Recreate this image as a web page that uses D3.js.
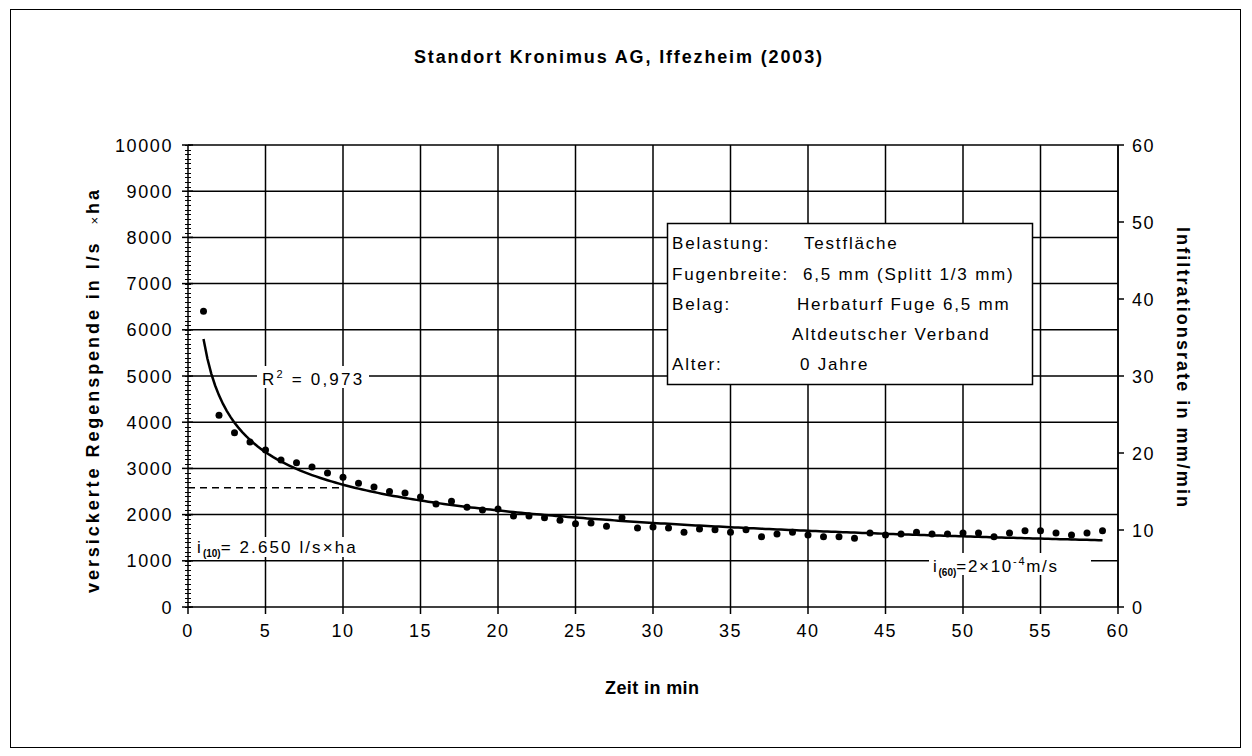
<!DOCTYPE html>
<html><head><meta charset="utf-8">
<script src="https://cdn.jsdelivr.net/npm/d3@7"></script>
<style>
html,body{margin:0;padding:0;background:#fff;}
text{font-family:"Liberation Sans",Arial,sans-serif;fill:#000;}
</style></head>
<body>
<svg id="c" width="1252" height="756"></svg>
<script>
// ---- data ----
const times = [1,2,3,4,5,6,7,8,9,10,11,12,13,14,15,16,17,18,19,20,21,22,23,24,25,26,27,28,29,30,31,32,33,34,35,36,37,38,39,40,41,42,43,44,45,46,47,48,49,50,51,52,53,54,55,56,57,58,59];
const values = [6400,4150,3770,3570,3400,3180,3120,3030,2900,2810,2680,2600,2500,2470,2380,2230,2290,2160,2100,2120,1970,1970,1930,1880,1800,1820,1750,1930,1710,1730,1710,1620,1690,1670,1620,1670,1520,1580,1620,1560,1520,1520,1490,1600,1560,1580,1620,1580,1580,1600,1600,1520,1600,1650,1650,1600,1560,1600,1650];
const xTicks = [0,5,10,15,20,25,30,35,40,45,50,55,60];
const yLeftTicks = [0,1000,2000,3000,4000,5000,6000,7000,8000,9000,10000];
const yRightTicks = [0,10,20,30,40,50,60];
const i10Level = 2580;
const legendLabels = ["Belastung:","Fugenbreite:","Belag:","","Alter:"];
const legendValues = ["Testfläche","6,5 mm (Splitt 1/3 mm)","Herbaturf Fuge 6,5 mm","Altdeutscher Verband","0 Jahre"];
const title = "Standort Kronimus AG, Iffezheim (2003)";

// ---- layout ----
const svg = d3.select("#c");
const L = 188, R = 1118, T = 145, B = 607;
const x = d3.scaleLinear().domain([0,60]).range([L,R]);
const y = d3.scaleLinear().domain([0,10000]).range([B,T]);
const y2 = d3.scaleLinear().domain([0,60]).range([B,T]);
const LS = "1.8px";

// outer frame
svg.append("rect").attr("x",10.5).attr("y",9.5).attr("width",1230).attr("height",738)
  .attr("fill","none").attr("stroke","#000").attr("stroke-width",1);

// title
svg.append("text").attr("x",618).attr("y",63).attr("text-anchor","middle")
  .attr("font-size",18).attr("font-weight","bold")
  .attr("textLength",408).attr("lengthAdjust","spacing").text(title);

// grid
const g = svg.append("g");
g.selectAll("line.v").data(xTicks.filter(d=>d>0)).enter().append("line")
  .attr("x1",d=>x(d)).attr("x2",d=>x(d)).attr("y1",T).attr("y2",B)
  .attr("stroke","#000").attr("stroke-width",1.5);
g.selectAll("line.h").data(yLeftTicks.filter(d=>d>0)).enter().append("line")
  .attr("x1",L).attr("x2",R).attr("y1",d=>y(d)).attr("y2",d=>y(d))
  .attr("stroke","#000").attr("stroke-width",1.5);

// axes lines
svg.append("line").attr("x1",L).attr("x2",L).attr("y1",T).attr("y2",B).attr("stroke","#000").attr("stroke-width",1.5);
svg.append("line").attr("x1",L).attr("x2",R).attr("y1",B).attr("y2",B).attr("stroke","#000").attr("stroke-width",1.5);
svg.append("line").attr("x1",R).attr("x2",R).attr("y1",T).attr("y2",B).attr("stroke","#000").attr("stroke-width",1.5);

// left minor ticks
const minor = d3.range(0,10001,100);
svg.selectAll("line.mn").data(minor).enter().append("line")
  .attr("x1",L-3).attr("x2",L+3).attr("y1",d=>Math.round(y(d))+0.5).attr("y2",d=>Math.round(y(d))+0.5)
  .attr("stroke","#000").attr("stroke-width",1);
// left major ticks + labels
svg.selectAll("line.mj").data(yLeftTicks).enter().append("line")
  .attr("x1",L-6).attr("x2",L+5).attr("y1",d=>y(d)).attr("y2",d=>y(d)).attr("stroke","#000").attr("stroke-width",1.5);
svg.selectAll("text.yl").data(yLeftTicks).enter().append("text")
  .attr("x",173).attr("y",d=>y(d)+6.5).attr("text-anchor","end").attr("font-size",18)
  .style("letter-spacing","1.6px").text(d=>d);
// right ticks + labels
svg.selectAll("line.rt").data(yRightTicks).enter().append("line")
  .attr("x1",R).attr("x2",R+6).attr("y1",d=>y2(d)).attr("y2",d=>y2(d)).attr("stroke","#000").attr("stroke-width",1.5);
svg.selectAll("text.yr").data(yRightTicks).enter().append("text")
  .attr("x",1132).attr("y",d=>y2(d)+6.5).attr("text-anchor","start").attr("font-size",18)
  .style("letter-spacing","1.6px").text(d=>d);
// x ticks + labels
svg.selectAll("line.xt").data(xTicks).enter().append("line")
  .attr("x1",d=>x(d)).attr("x2",d=>x(d)).attr("y1",B).attr("y2",B+7).attr("stroke","#000").attr("stroke-width",1.5);
svg.selectAll("text.xl").data(xTicks).enter().append("text")
  .attr("x",d=>x(d)).attr("y",637).attr("text-anchor","middle").attr("font-size",18)
  .style("letter-spacing","1.6px").text(d=>d);

// axis titles
svg.append("text").attr("x",652).attr("y",694).attr("text-anchor","middle").attr("font-size",18)
  .attr("font-weight","bold").attr("textLength",94).attr("lengthAdjust","spacing").text("Zeit in min");
const lt = svg.append("text").attr("transform","translate(99,391.5) rotate(-90)").attr("text-anchor","middle")
  .attr("font-size",18).attr("font-weight","bold").attr("textLength",403).attr("lengthAdjust","spacing");
lt.append("tspan").text("versickerte Regenspende in l/s\u00a0\u00a0");
lt.append("tspan").attr("font-weight","normal").attr("font-size",13).text("\u00d7");
lt.append("tspan").text("ha");
svg.append("text").attr("transform","translate(1177,367) rotate(90)").attr("text-anchor","middle")
  .attr("font-size",18).attr("font-weight","bold").attr("textLength",280).attr("lengthAdjust","spacing")
  .text("Infiltrationsrate in mm/min");

// dashed i10 line
svg.append("line").attr("x1",x(0)).attr("x2",x(10)).attr("y1",y(i10Level)).attr("y2",y(i10Level))
  .attr("stroke","#000").attr("stroke-width",1.5).attr("stroke-dasharray","7,5");

// power trend (least squares in log-log space)
const lx = times.map(Math.log), ly = values.map(Math.log);
const mx = d3.mean(lx), my = d3.mean(ly);
const b = d3.sum(lx.map((v,i)=>(v-mx)*(ly[i]-my))) / d3.sum(lx.map(v=>(v-mx)*(v-mx)));
const a = Math.exp(my - b*mx);
const tr = d3.range(1,59.001,0.25).map(t=>[t,a*Math.pow(t,b)]);
svg.append("path").datum(tr).attr("fill","none").attr("stroke","#000").attr("stroke-width",2.5)
  .attr("d",d3.line().x(d=>x(d[0])).y(d=>y(d[1])));

// points
svg.selectAll("circle.p").data(times).enter().append("circle")
  .attr("cx",d=>x(d)).attr("cy",(d,i)=>y(values[i])).attr("r",3.5).attr("fill","#000");

// R² label
svg.append("rect").attr("x",257).attr("y",366).attr("width",112).attr("height",22).attr("fill","#fff");
const r2 = svg.append("text").attr("x",262).attr("y",385).attr("font-size",17).style("letter-spacing","2.2px");
r2.append("tspan").text("R");
r2.append("tspan").attr("font-size",11).attr("dy",-7).text("2");
r2.append("tspan").attr("dy",7).text(" = 0,973");

// i10 label
svg.append("rect").attr("x",192).attr("y",537).attr("width",175).attr("height",20).attr("fill","#fff");
const t10 = svg.append("text").attr("x",197).attr("y",553).attr("font-size",17).style("letter-spacing","2.1px");
t10.append("tspan").text("i");
t10.append("tspan").attr("font-size",10).attr("font-weight","bold").attr("dy",4).style("letter-spacing","0px").text("(10)");
t10.append("tspan").attr("dy",-4).text("= 2.650 l/s\u00d7ha");

// i60 label
svg.append("rect").attr("x",929).attr("y",553).attr("width",162).attr("height",22).attr("fill","#fff");
const t60 = svg.append("text").attr("x",933).attr("y",572).attr("font-size",17).style("letter-spacing","1.7px");
t60.append("tspan").text("i");
t60.append("tspan").attr("font-size",10).attr("font-weight","bold").attr("dy",4).style("letter-spacing","0px").text("(60)");
t60.append("tspan").attr("dy",-4).text("=2\u00d710");
t60.append("tspan").attr("font-size",11).attr("dy",-7).text("-4");
t60.append("tspan").attr("dy",7).text("m/s");

// legend box
svg.append("rect").attr("x",667.5).attr("y",223.5).attr("width",365).attr("height",161)
  .attr("fill","#fff").attr("stroke","#000").attr("stroke-width",1.5);
const rowY = [249,280,310,340,370];
const valX = [804,803,797,792,800];
svg.selectAll("text.ll").data(legendLabels).enter().append("text")
  .attr("x",672).attr("y",(d,i)=>rowY[i]).attr("font-size",17).style("letter-spacing",LS).text(d=>d);
svg.selectAll("text.lv").data(legendValues).enter().append("text")
  .attr("x",(d,i)=>valX[i]).attr("y",(d,i)=>rowY[i]).attr("font-size",17).style("letter-spacing",LS).text(d=>d);
</script>
</body></html>
